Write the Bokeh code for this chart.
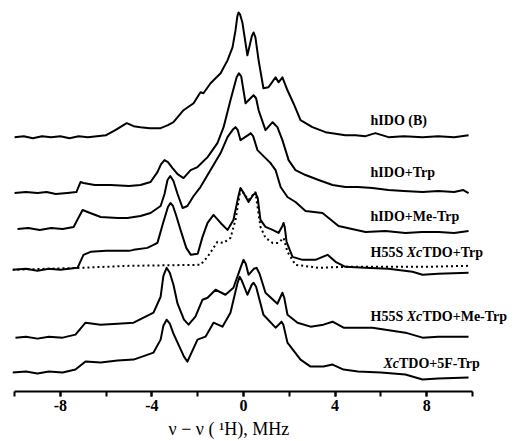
from bokeh.plotting import figure
from bokeh.models import Range1d, FixedTicker, ColumnDataSource, Title
from bokeh.core.properties import value
from bokeh.embed import file_html
from bokeh.resources import INLINE

# ---- spectra: x in MHz (nu - nu(1H)), y = stacked intensity (arb. units) ----
x_hido_b = [-10.0, -9.6, -9.2, -8.8, -8.4, -8.0, -7.6, -7.2, -6.8, -6.4, -6.0, -5.6, -5.1, -4.8, -4.5,
            -4.1, -3.62, -3.3, -3.06, -2.62, -2.18, -1.88, -1.75, -1.44, -1.0, -0.70, -0.48, -0.35,
            -0.27, -0.22, -0.15, -0.05, 0.17, 0.36, 0.44, 0.52, 0.66, 0.87, 1.09, 1.40, 1.53, 1.70,
            1.92, 2.18, 2.49, 3.01, 3.58, 4.45, 4.89, 5.33, 5.76, 6.33, 7.0, 7.82, 8.5, 9.2, 9.83]
y_hido_b = [255, 256, 254, 256, 255, 256, 254, 256, 255, 256, 257, 262, 269, 266, 265,
            264, 264, 267, 270, 282, 289, 300, 299, 309, 319, 332, 345, 362,
            376, 380, 378, 370, 337, 356, 360, 355, 332, 304, 305, 315, 310, 315,
            302, 289, 272, 265, 260, 257, 257, 256, 259, 255, 256, 255, 256, 255, 257]

x_hido_trp = [-10.0, -9.5, -9.0, -8.6, -8.2, -7.7, -7.3, -7.12, -6.99, -6.5, -5.8, -5.0, -4.5, -4.06,
              -3.76, -3.6, -3.45, -3.3, -3.1, -2.88, -2.62, -2.31, -2.01, -1.57, -1.14, -0.87, -0.57,
              -0.3, -0.2, -0.1, 0.09, 0.35, 0.44, 0.55, 0.66, 0.96, 1.27, 1.48, 1.70, 1.97, 2.27,
              2.71, 3.28, 3.89, 4.45, 5.0, 5.63, 6.33, 7.0, 7.82, 8.5, 9.2, 9.6, 9.83]
y_hido_trp = [199, 200, 199, 200, 198, 199, 200, 210, 209, 207, 207, 206, 207, 210,
              220, 228, 232, 230, 224, 218, 214, 222, 225, 235, 249, 265, 292,
              315, 319, 316, 289, 295, 297, 294, 282, 262, 270, 265, 252, 232, 222,
              217, 212, 207, 205, 205, 204, 202, 201, 200, 201, 200, 202, 199]

x_hido_metrp = [-9.87, -9.4, -8.9, -8.4, -7.9, -7.42, -7.03, -6.81, -6.24, -5.5, -5.07, -4.5, -4.06,
                -3.62, -3.45, -3.32, -3.2, -3.06, -2.88, -2.66, -2.45, -2.18, -1.88, -1.57, -1.44,
                -1.0, -0.70, -0.45, -0.35, -0.25, -0.13, 0.2, 0.31, 0.42, 0.61, 0.96, 1.18, 1.40,
                1.62, 1.92, 2.27, 2.71, 3.45, 4.15, 5.33, 6.2, 7.07, 7.8, 8.52, 9.2, 9.83]
y_hido_metrp = [163, 164, 162, 164, 163, 165, 182, 180, 175, 174, 174, 176, 179,
                186, 198, 212, 216, 211, 198, 184, 186, 196, 205, 217, 222,
                239, 255, 263, 265, 262, 252, 257, 259, 256, 242, 234, 229, 222,
                205, 195, 190, 181, 179, 166, 160, 161, 159, 160, 160, 159, 161]

x_h55s_trp = [-10.09, -9.5, -9.0, -8.5, -8.0, -7.25, -6.99, -6.68, -6.0, -5.0, -4.8, -4.2, -3.93,
              -3.76, -3.5, -3.3, -3.19, -3.08, -2.92, -2.75, -2.5, -2.3, -2.0, -1.79, -1.57, -1.31,
              -1.0, -0.70, -0.44, -0.22, -0.13, -0.02, 0.22, 0.42, 0.52, 0.62, 0.74, 0.96, 1.27,
              1.53, 1.70, 1.75, 1.80, 1.88, 2.14, 2.58, 3.14, 3.67, 4.02, 4.45, 5.3, 6.33, 7.38,
              7.82, 8.5, 9.83]
y_h55s_trp = [122, 123, 121, 123, 122, 124, 137, 140, 141, 141, 142, 144, 147,
              149, 170, 185, 189, 186, 175, 162, 144, 137, 138, 155, 169, 177,
              169, 162, 172, 196, 204, 200, 190, 197, 199, 194, 172, 165, 162,
              159, 166, 169, 165, 150, 135, 132, 132, 137, 130, 125, 124, 123, 120,
              117, 118, 119]

x_xctdo_trp = [-10.09, -7.12, -5.0, -1.88, -1.57, -1.14, -0.87, -0.57, -0.35, -0.13, 0.22, 0.52,
               0.74, 0.96, 1.27, 1.53, 1.75, 1.92, 2.27, 3.28, 4.5, 6.33, 8.0, 9.83]
y_xctdo_trp = [122, 124, 126, 127, 135, 150, 149, 154, 172, 203, 192, 200,
               165, 154, 149, 149, 154, 140, 127, 124, 125, 125, 125, 126]

x_h55s_metrp = [-9.96, -9.5, -9.0, -8.5, -7.9, -7.34, -6.90, -6.24, -5.5, -4.8, -3.93, -3.62, -3.5,
                -3.36, -3.22, -3.06, -2.88, -2.6, -2.40, -2.1, -1.79, -1.57, -1.22, -0.79, -0.44,
                -0.1, 0.0, 0.1, 0.22, 0.45, 0.57, 0.7, 0.96, 1.48, 1.62, 1.70, 1.78, 1.92, 2.36,
                2.93, 3.49, 3.89, 4.37, 5.63, 7.07, 7.82, 8.5, 9.83]
y_h55s_metrp = [54, 55, 53, 55, 54, 57, 69, 67, 68, 69, 79, 95, 116,
                124, 119, 107, 88, 72, 67, 75, 92, 94, 102, 97, 104,
                126, 132, 128, 117, 123, 124, 118, 99, 88, 95, 99, 94, 77, 69,
                65, 67, 70, 64, 64, 59, 54, 55, 55]

x_5ftrp = [-10.09, -9.5, -9.0, -8.5, -7.9, -7.34, -6.90, -6.24, -5.5, -4.8, -3.93, -3.62, -3.5,
           -3.36, -3.22, -3.06, -2.88, -2.6, -2.45, -2.01, -1.66, -1.31, -0.92, -0.57, -0.27,
           -0.17, -0.07, 0.17, 0.36, 0.44, 0.55, 0.87, 1.40, 1.58, 1.66, 1.74, 1.92, 2.49, 2.93,
           3.49, 3.89, 4.37, 5.0, 6.0, 7.07, 7.82, 8.5, 9.83]
y_5ftrp = [19, 20, 18, 20, 19, 22, 30, 29, 31, 32, 39, 52, 66,
           72, 68, 58, 49, 35, 30, 52, 55, 69, 65, 79, 108,
           115, 111, 97, 107, 109, 105, 77, 64, 68, 70, 67, 49, 32, 25,
           25, 27, 22, 20, 19, 17, 12, 13, 14]

# ---- labels ----
label_x = [5.55, 5.55, 5.55, 5.55, 5.55, 6.11]
label_y = [272, 220, 175, 139, 75, 28]
label_pre = ["hIDO (B)", "hIDO+Trp", "hIDO+Me-Trp", "H55S ", "H55S ", ""]
label_ital = ["", "", "", "Xc", "Xc", "Xc"]
label_post = ["", "", "", "TDO+Trp", "TDO+Me-Trp", "TDO+5F-Trp"]

tick_values = [-8, -4, 0, 4, 8]
tick_labels = ["-8", "-4", "0", "4", "8"]
minor_values = [-10, -6, -2, 2, 6, 10]
x_title = "\u03bd \u2212 \u03bd ( \u00b9H), MHz"

FONT = "Liberation Serif"

p = figure(width=515, height=441, output_backend="svg", toolbar_location=None,
           x_range=Range1d(-10.09, 11.88), y_range=Range1d(0, 392),
           min_border_left=12, min_border_right=0, min_border_top=0, min_border_bottom=49)
p.outline_line_color = None
p.grid.visible = False
p.yaxis.visible = False
p.background_fill_color = "white"
p.border_fill_color = "white"

ax = p.xaxis[0]
ax.bounds = (-10, 10)
ax.ticker = FixedTicker(ticks=tick_values, minor_ticks=minor_values + tick_values)
ax.major_label_overrides = {v: t for v, t in zip(tick_values, tick_labels)}
ax.major_tick_in = 0
ax.major_tick_out = 5
ax.minor_tick_in = 0
ax.minor_tick_out = 5
ax.axis_line_width = 2
ax.major_tick_line_width = 2
ax.minor_tick_line_width = 2
ax.axis_line_color = "black"
ax.major_tick_line_color = "black"
ax.minor_tick_line_color = "black"
ax.major_label_text_font = FONT
ax.major_label_text_font_style = "bold"
ax.major_label_text_font_size = "16px"
ax.major_label_text_color = "black"
ax.major_label_standoff = 3

p.add_layout(Title(text=x_title, align="left", offset=156, standoff=6,
                   text_font=FONT, text_font_size="18px", text_font_style="normal",
                   text_color="black"), "below")

traces = [(x_hido_b, y_hido_b), (x_hido_trp, y_hido_trp), (x_hido_metrp, y_hido_metrp),
          (x_h55s_trp, y_h55s_trp), (x_h55s_metrp, y_h55s_metrp), (x_5ftrp, y_5ftrp)]
for xs, ys in traces:
    p.line(xs, ys, line_color="black", line_width=2, line_join="round")
p.line(x_xctdo_trp, y_xctdo_trp, line_color="black", line_width=2, line_dash="2 3")

# label pieces: widths (px) of prefix at 14px bold Times metrics
pre_w = {"H55S ": 36.2}
ital_w = {"Xc": 15.6}
src_pre = ColumnDataSource(dict(x=label_x, y=label_y, text=label_pre, xo=[0] * 6))
src_it = ColumnDataSource(dict(x=label_x, y=label_y, text=label_ital,
                               xo=[pre_w.get(a, 0.0) for a in label_pre]))
src_post = ColumnDataSource(dict(x=label_x, y=label_y, text=label_post,
                                 xo=[pre_w.get(a, 0.0) + ital_w.get(b, 0.0)
                                     for a, b in zip(label_pre, label_ital)]))
for src, style in [(src_pre, "bold"), (src_it, "bold italic"), (src_post, "bold")]:
    p.text(x="x", y="y", text="text", x_offset="xo", source=src,
           text_font=value(FONT), text_font_style=style, text_font_size="14px",
           text_color="black", text_baseline="alphabetic", text_align="left")

open("out.html", "w").write(file_html(p, INLINE))
